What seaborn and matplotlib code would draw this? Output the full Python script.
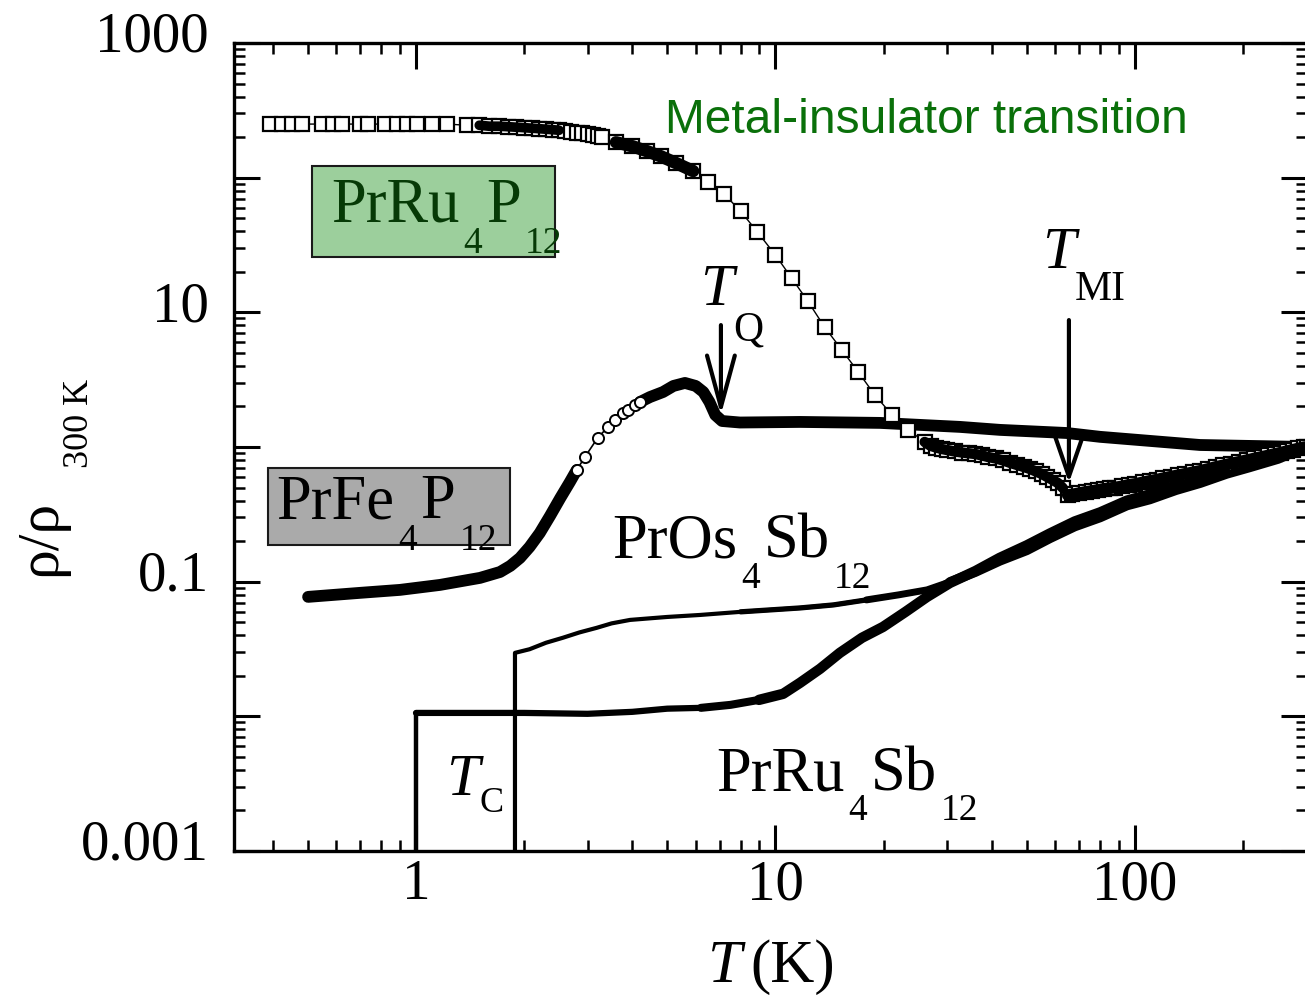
import numpy as np
import pandas as pd
import matplotlib
matplotlib.use("Agg")
import matplotlib.pyplot as plt
import seaborn as sns
from matplotlib import ticker, transforms
from matplotlib.patches import Rectangle

# Normalised resistivity rho(T) / rho(300 K) of four Pr-filled skutterudites.

# PrRu4P12: metal-insulator transition (open squares)
ru4p12_T = [0.393, 0.424, 0.452, 0.482, 0.548, 0.588, 0.623, 0.699, 0.736, 0.820,
            0.886, 0.944, 1.006, 1.108, 1.219, 1.387,
            1.5, 1.6, 1.7, 1.8, 1.9, 2.0, 2.1, 2.2, 2.3, 2.4, 2.5, 2.6, 2.7, 2.8,
            2.9, 3.0, 3.1, 3.2, 3.3,
            3.6, 4.0, 4.4, 4.8, 5.3, 5.9, 6.5, 7.2, 8.0, 8.9, 10.0, 11.1, 12.3,
            13.7, 15.3, 17.0, 18.9, 21.1, 23.4, 26.0,
            27, 28, 29, 30, 31.5, 33, 34.5, 36, 37.5, 39, 41, 43, 45, 47, 49, 51,
            53, 55, 57, 59, 61, 63, 65,
            67, 70, 73, 76, 79, 82, 85, 88, 92, 96, 100, 105, 110, 115, 120, 126,
            132, 138, 145, 152, 160, 168, 176, 185, 195, 205, 215, 225, 235, 245,
            255, 265, 275, 285, 295, 300]
ru4p12_rho = [250, 250, 250, 250, 250, 250, 250, 250, 250, 250,
              250, 250, 250, 250, 250, 245,
              245, 241, 241, 239, 237, 235, 233, 231, 229, 227, 225, 221, 218, 215,
              213, 210, 206, 203, 200,
              183, 171, 157, 144, 128, 112, 92.6, 75.5, 56.3, 39.6, 26.6, 17.9, 12.1,
              7.77, 5.25, 3.60, 2.43, 1.73, 1.34, 1.09,
              1.02, 0.99, 0.966, 0.950, 0.926, 0.910, 0.898, 0.887, 0.865, 0.843,
              0.822, 0.794, 0.761, 0.735, 0.711, 0.687, 0.658, 0.631, 0.599, 0.569,
              0.541, 0.496, 0.440,
              0.444, 0.454, 0.464, 0.471, 0.480, 0.488, 0.494, 0.500, 0.509, 0.523,
              0.531, 0.545, 0.560, 0.572, 0.586, 0.602, 0.617, 0.632, 0.648, 0.665,
              0.687, 0.711, 0.730, 0.753, 0.776, 0.798, 0.822, 0.843, 0.865, 0.887,
              0.909, 0.931, 0.953, 0.975, 0.995, 1.0]

# PrFe4P12: anomaly at the quadrupolar ordering T_Q (open circles)
fe4p12_T = [0.501, 0.699, 0.903, 1.166, 1.507, 1.713, 1.83, 1.946, 2.07, 2.21, 2.36,
            2.52, 2.68,
            2.80, 2.95, 3.20, 3.42, 3.58, 3.77, 3.89, 4.07, 4.20,
            4.477, 4.865, 5.2, 5.6, 6.0, 6.3, 6.55, 6.8, 7.1, 7.965, 11.70, 19.53,
            32.61, 42.12, 64.69, 79.92, 151.6, 300]
fe4p12_rho = [0.0771, 0.0826, 0.0869, 0.0946, 0.1067, 0.118, 0.131, 0.150, 0.181,
              0.230, 0.308, 0.418, 0.55,
              0.675, 0.843, 1.166, 1.41, 1.59, 1.79, 1.88, 2.05, 2.16,
              2.35, 2.56, 2.84, 2.99, 2.84, 2.56, 2.16, 1.73, 1.56, 1.52, 1.535, 1.51,
              1.41, 1.34, 1.27, 1.19, 1.035, 1.0]

# PrOs4Sb12: superconducting below T_C = 1.85 K (first point lies below the axis)
os4sb12_T = [1.885, 1.885, 2.07, 2.3, 2.56, 2.85, 3.18, 3.5, 3.94, 4.5, 5.0, 6.17,
             8.0, 11.7, 14.5, 17.9, 22.0, 26.4, 30.6, 36.0, 42.1, 50, 58, 68, 80, 95,
             110, 130, 152, 180, 208, 250, 300]
os4sb12_rho = [1e-4, 0.0296, 0.0315, 0.0352, 0.0383, 0.0420, 0.0454, 0.0490, 0.0520,
               0.0535, 0.0547, 0.0566, 0.0597, 0.0638, 0.0672, 0.0732, 0.0798, 0.0869,
               0.0996, 0.118, 0.143, 0.171, 0.210, 0.257, 0.300, 0.368, 0.408, 0.478,
               0.540, 0.632, 0.705, 0.815, 1.0]

# PrRu4Sb12: superconducting below T_C = 1.0 K
ru4sb12_T = [1.0, 1.0, 1.2, 1.5, 2.0, 3.0, 4.0, 5.0, 6.2, 7.5, 9.0, 10.5, 11.7, 13.3,
             15.1, 17.4, 19.9, 23.0, 26.4, 30.6, 36.0, 42.0, 50, 58, 68, 80, 95, 110,
             130, 152, 180, 208, 250, 300]
ru4sb12_rho = [1e-4, 0.0106, 0.0106, 0.0106, 0.0106, 0.01044, 0.0108, 0.0114, 0.01156,
               0.01217, 0.01325, 0.01469, 0.01773, 0.02253, 0.0296, 0.0383, 0.0461,
               0.0597, 0.0771, 0.098, 0.120, 0.150, 0.186, 0.228, 0.280, 0.327, 0.400,
               0.445, 0.515, 0.580, 0.672, 0.742, 0.845, 1.0]

# transition temperatures marked with arrows (K) and arrow spans (rho/rho300)
T_Q = 7.05
T_Q_span = (8.04, 1.73)
T_MI = 65.5
T_MI_span = (8.76, 0.541)

y_major = [1e-3, 1e-2, 1e-1, 1, 10, 100, 1000]
y_text = {1e-3: "0.001", 1e-1: "0.1", 10: "10", 1000: "1000"}
x_major = [1, 10, 100]
x_text = ["1", "10", "100"]

sns.set_theme(style="ticks")
plt.rcParams.update({
    "font.family": ["Liberation Serif", "DejaVu Serif"],
    "mathtext.fontset": "custom",
    "mathtext.rm": "Liberation Serif",
    "mathtext.it": "Liberation Serif:italic",
    "text.color": "black",
    "axes.labelcolor": "black",
    "axes.edgecolor": "black",
    "axes.linewidth": 2.4,
})

DPI = 100
W, H = 1305, 996
fig = plt.figure(figsize=(W / DPI, H / DPI), dpi=DPI, facecolor="white")
ax = fig.add_axes([234 / W, 145 / H, 1072.5 / W, 808 / H])
ax.set_xscale("log")
ax.set_yscale("log")


def frame(T, rho):
    return pd.DataFrame({"T": T, "rho": rho})


line_kw = dict(x="T", y="rho", sort=False, estimator=None, color="black", ax=ax)
band_kw = dict(solid_capstyle="round", solid_joinstyle="round")

# PrRu4Sb12: trace gets heavier where the data are denser
d = frame(ru4sb12_T, ru4sb12_rho)
sns.lineplot(data=d, lw=3.2, zorder=2, **line_kw)
sns.lineplot(data=d.iloc[1:], lw=4.5, zorder=2, **line_kw)
for t0, lw in ((6.2, 5.8), (9.0, 7.5)):
    sns.lineplot(data=d[d["T"] >= t0], lw=lw, zorder=2, **band_kw, **line_kw)

# PrOs4Sb12
d = frame(os4sb12_T, os4sb12_rho)
sns.lineplot(data=d, lw=3.0, zorder=2, **line_kw)
for t0, lw in ((8.0, 3.8), (17.9, 5.0), (30.6, 7.0)):
    sns.lineplot(data=d[d["T"] >= t0], lw=lw, zorder=2, **band_kw, **line_kw)

# PrFe4P12: dense stretches merge into a solid band, sparse part shows circles
d = frame(fe4p12_T, fe4p12_rho)
for part in (d[d["T"] <= 2.8], d[d["T"] >= 4.2]):
    sns.lineplot(data=part, lw=8.5, zorder=3, **band_kw, **line_kw)
sns.lineplot(data=d[(d["T"] >= 2.8) & (d["T"] <= 4.2)], lw=1.2, marker="o",
             markersize=8, markerfacecolor="white", markeredgecolor="black",
             markeredgewidth=1.4, zorder=3, **line_kw)

# PrRu4P12: open squares; where points crowd together they merge into a dark band
d = frame(ru4p12_T, ru4p12_rho)
sns.lineplot(data=d, lw=1.0, marker="s", markersize=10.5, markerfacecolor="white",
             markeredgecolor="black", markeredgewidth=1.6, zorder=5, **line_kw)
for lo, hi, lw in ((1.45, 2.55, 7.0), (3.5, 5.9, 9.0), (26.0, 63.0, 7.5), (65.0, 300.0, 8.5)):
    sns.lineplot(data=d[(d["T"] >= lo) & (d["T"] <= hi)], lw=lw, zorder=5.5,
                 **band_kw, **line_kw)

# arrows at T_Q and T_MI
ax.annotate("", xy=(T_Q, T_Q_span[1]), xytext=(T_Q, T_Q_span[0]),
            arrowprops=dict(arrowstyle="->,head_length=37,head_width=10",
                            mutation_scale=1, lw=3.0, color="black",
                            shrinkA=0, shrinkB=0), zorder=6)
ax.annotate("", xy=(T_MI, T_MI_span[1]), xytext=(T_MI, T_MI_span[0]),
            arrowprops=dict(arrowstyle="->,head_length=29,head_width=10",
                            mutation_scale=1, lw=3.0, color="black",
                            shrinkA=0, shrinkB=0), zorder=6)

# axes, ticks
ax.set_xlim(0.3117, 300)
ax.set_ylim(1e-3, 1e3)
ax.set_xlabel("")
ax.set_ylabel("")
ax.xaxis.set_major_locator(ticker.FixedLocator(x_major))
ax.xaxis.set_major_formatter(ticker.FixedFormatter(x_text))
ax.xaxis.set_minor_locator(ticker.LogLocator(base=10, subs=np.arange(2, 10), numticks=30))
ax.xaxis.set_minor_formatter(ticker.NullFormatter())
ax.yaxis.set_major_locator(ticker.FixedLocator(y_major))
ax.yaxis.set_major_formatter(ticker.FixedFormatter([y_text.get(v, "") for v in y_major]))
ax.yaxis.set_minor_locator(ticker.LogLocator(base=10, subs=np.arange(2, 10), numticks=30))
ax.yaxis.set_minor_formatter(ticker.NullFormatter())
ax.tick_params(which="both", direction="in", top=True, right=True, colors="black")
ax.tick_params(which="major", length=19, width=2.2, labelsize=41)
ax.tick_params(which="minor", length=8, width=1.8)
ax.tick_params(axis="x", which="major", pad=6)
ax.tick_params(axis="y", which="major", pad=18)
for s in ax.spines.values():
    s.set_linewidth(2.4)
    s.set_color("black")

# y tick labels sit a little above their ticks
lift = transforms.ScaledTranslation(0, 0.11, fig.dpi_scale_trans)
for lab in ax.get_yticklabels():
    lab.set_transform(lab.get_transform() + lift)

renderer = fig.canvas.get_renderer()


def formula(x_px, y_px, parts, size, sub_size, drop_px, color="black", gap=4):
    """Write text piece by piece; 'sub' parts are smaller and dropped below the baseline."""
    x = x_px
    for text, kind in parts:
        sub = kind == "sub"
        t = fig.text(x / W, 1 - (y_px + (drop_px if sub else 0)) / H, text,
                     fontsize=sub_size if sub else size,
                     fontstyle="italic" if kind == "it" else "normal",
                     color=color, ha="left", va="baseline", zorder=8)
        x += t.get_window_extent(renderer).width + gap
    return x


def box(x0, y0, x1, y1, face):
    fig.add_artist(Rectangle((x0 / W, 1 - y1 / H), (x1 - x0) / W, (y1 - y0) / H,
                             transform=fig.transFigure, facecolor=face,
                             edgecolor="#1a1a1a", lw=1.5, zorder=4))


box(312, 166, 555, 257, "#9ccf9c")
box(268, 468, 510, 545, "#aaaaaa")

formula(331, 222, [("PrRu", "n"), ("4", "sub"), ("P", "n"), ("12", "sub")],
        45, 27, 31, color="#063a06")
formula(276, 518, [("PrFe", "n"), ("4", "sub"), ("P", "n"), ("12", "sub")], 45, 27, 32)
formula(612, 557, [("PrOs", "n"), ("4", "sub"), ("Sb", "n"), ("12", "sub")], 45, 27, 31)
formula(716, 790, [("PrRu", "n"), ("4", "sub"), ("Sb", "n"), ("12", "sub")], 45, 27, 30)

formula(700, 305, [("T", "it"), ("Q", "sub")], 43, 30, 35, gap=0)
formula(1042, 268, [("T", "it"), ("MI", "sub")], 43, 30, 32, gap=0)
formula(446, 795, [("T", "it"), ("C", "sub")], 43, 26, 17, gap=0)

fig.text(665 / W, 1 - 133 / H, "Metal-insulator transition", family="Liberation Sans",
         fontsize=34.5, color="#0a700a", ha="left", va="baseline")

# x axis title
formula(708, 982, [("T", "it")], 44, 30, 0)
fig.text(750 / W, 1 - 982 / H, "(K)", fontsize=44, ha="left", va="baseline")

# y axis title, rotated, with dropped subscript
fig.text(55 / W, 1 - 576 / H, "ρ/ρ", rotation=90, rotation_mode="anchor",
         ha="left", va="baseline", fontsize=43)
fig.text(88 / W, 1 - 468 / H, "300 K", rotation=90, rotation_mode="anchor",
         ha="left", va="baseline", fontsize=26)

fig.savefig("out.png", dpi=DPI, facecolor="white")
